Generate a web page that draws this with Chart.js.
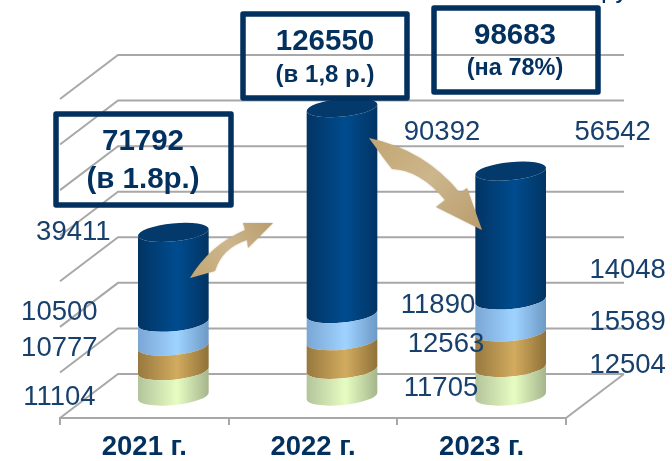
<!DOCTYPE html>
<html lang="ru">
<head>
<meta charset="utf-8">
<title>2021-2023</title>
<script src="https://cdn.jsdelivr.net/npm/chart.js@4"></script>
<style>
  html, body { margin: 0; padding: 0; background: #fff; }
  canvas { display: block; filter: blur(0.4px); }
</style>
</head>
<body>
<canvas id="mainChart" width="672" height="461"></canvas>
<script>
// data, bottom segment first
const categories = ['2021 г.', '2022 г.', '2023 г.'];
const seriesGreen = [11104, 11705, 12504];
const seriesTan = [10777, 12563, 15589];
const seriesBlue = [10500, 11890, 14048];
const seriesNavy = [39411, 90392, 56542];

const totals = ['71792', '126550', '98683'];
const growth = ['(в 1.8р.)', '(в 1,8 р.)', '(на 78%)'];

const navy = '#03315f';
const textColor = '#17406d';
const gridColor = '#a8a8a8';
const font = '"Liberation Sans", Arial, sans-serif';

// 3D look: floor depth in pixels
const depthX = 58;
const depthY = 44;
const ellipseRy = 9;
const tilt = -0.1;

// left edge, middle, right edge of each cylinder
const shades = [
    ['#b3c49b', '#e6fdc2', '#a5b58c'],
    ['#97793f', '#d2ab5f', '#8f7138'],
    ['#7aa6d4', '#9fd3ff', '#6d99c6'],
    ['#023463', '#004c8f', '#023463']
];

// data label nudges from the middle of each segment, [series][year]
const labelNudge = [
    [[-85, -8], [128, -16], [146, -38]],
    [[-85, -32], [133, -33], [146, -49]],
    [[-85, -44], [125, -44], [146, -68]],
    [[-71, -67], [129, -100], [131, -125]]
];

// callout boxes: x, y, w, h, text centre ys and font sizes
const boxes = [
    { x: 56, y: 114, w: 175, h: 91, cx: 143, y1: 142, y2: 180, s1: 29.5, s2: 29.5 },
    { x: 243, y: 14, w: 164, h: 84, cx: 325, y1: 42, y2: 75, s1: 29.5, s2: 24 },
    { x: 434, y: 8, w: 164, h: 84, cx: 515, y1: 36, y2: 69, s1: 29.5, s2: 23.5 }
];

function drawArrow(ctx, pts, x0, y0, x1, y1) {
    const g = ctx.createLinearGradient(x0, y0, x1, y1);
    g.addColorStop(0, '#c2a672');
    g.addColorStop(0.5, '#cdb68c');
    g.addColorStop(1, '#b89c6c');
    ctx.save();
    ctx.fillStyle = g;
    ctx.shadowColor = 'rgba(120,100,60,0.35)';
    ctx.shadowBlur = 2;
    ctx.beginPath();
    ctx.moveTo(pts[0][0], pts[0][1]);
    for (let i = 1; i < pts.length; i++) {
        const p = pts[i];
        if (p.length === 4) ctx.quadraticCurveTo(p[0], p[1], p[2], p[3]);
        else ctx.lineTo(p[0], p[1]);
    }
    ctx.closePath();
    ctx.fill();
    ctx.restore();
}

const floorGrid = {
    id: 'floorGrid',
    beforeDatasetsDraw(chart) {
        const ctx = chart.ctx;
        const area = chart.chartArea;
        const y = chart.scales.y;
        ctx.save();
        ctx.strokeStyle = gridColor;
        ctx.lineWidth = 2;
        y.ticks.forEach(t => {
            const py = y.getPixelForValue(t.value);
            ctx.beginPath();
            ctx.moveTo(area.left, py);
            ctx.lineTo(area.left + depthX, py - depthY);
            ctx.lineTo(area.right + depthX, py - depthY);
            ctx.stroke();
        });
        ctx.beginPath();
        ctx.moveTo(area.right, y.getPixelForValue(0));
        ctx.lineTo(area.right + depthX, y.getPixelForValue(0) - depthY);
        ctx.stroke();
        ctx.restore();
    }
};

// bars are stood in the middle of the floor and drawn as cylinders
const cylinders = {
    id: 'cylinders',
    beforeDatasetDraw(chart, args) {
        const ctx = chart.ctx;
        const shade = shades[args.index];
        args.meta.data.forEach(bar => {
            const cx = bar.x + depthX / 2;
            const rx = bar.width / 2;
            const top = bar.y - depthY / 2;
            const bottom = bar.base - depthY / 2;
            const g = ctx.createLinearGradient(cx - rx, 0, cx + rx, 0);
            g.addColorStop(0, shade[0]);
            g.addColorStop(0.55, shade[1]);
            g.addColorStop(1, shade[2]);
            ctx.save();
            ctx.fillStyle = g;
            ctx.beginPath();
            ctx.ellipse(cx, bottom, rx, ellipseRy, tilt, 0, Math.PI);
            ctx.ellipse(cx, top, rx, ellipseRy, tilt, Math.PI, 0, true);
            ctx.closePath();
            ctx.fill();
            if (args.index === shades.length - 1) {
                ctx.fillStyle = '#033a6b';
                ctx.beginPath();
                ctx.ellipse(cx, top, rx, ellipseRy, tilt, 0, Math.PI * 2);
                ctx.fill();
            }
            ctx.restore();
        });
        return false;
    }
};

const annotations = {
    id: 'annotations',
    afterDraw(chart) {
        const ctx = chart.ctx;

        drawArrow(ctx, [[190, 278], [210, 245, 245, 230], [243, 223], [273, 223], [248, 248], [247, 240],
            [222, 248, 215, 271]], 190, 278, 273, 223);
        drawArrow(ctx, [[369, 138], [425, 150, 460, 193], [467, 188], [482, 230], [436, 207], [445, 200],
            [420, 170, 392, 169], [385, 160]], 369, 138, 482, 230);

        ctx.save();

        // cut off by the top edge of the picture, only the tails show
        ctx.textAlign = 'left';
        ctx.textBaseline = 'alphabetic';
        ctx.fillStyle = navy;
        ctx.font = '26px ' + font;
        ctx.fillText('ру', 601, -2);

        // values next to the segments
        ctx.textAlign = 'center';
        ctx.textBaseline = 'middle';
        ctx.fillStyle = textColor;
        ctx.font = '27.5px ' + font;
        chart.data.datasets.forEach((ds, s) => {
            const meta = chart.getDatasetMeta(s);
            meta.data.forEach((bar, i) => {
                const n = labelNudge[s][i];
                ctx.fillText(ds.data[i], bar.x + n[0], (bar.y + bar.base) / 2 + n[1]);
            });
        });

        // callouts
        boxes.forEach((b, i) => {
            ctx.strokeStyle = navy;
            ctx.lineWidth = 5.5;
            ctx.lineJoin = 'round';
            ctx.strokeRect(b.x, b.y, b.w, b.h);
            ctx.fillStyle = navy;
            ctx.font = 'bold ' + b.s1 + 'px ' + font;
            ctx.fillText(totals[i], b.cx, b.y1);
            ctx.font = 'bold ' + b.s2 + 'px ' + font;
            ctx.fillText(growth[i], b.cx, b.y2);
        });
        ctx.restore();
    }
};

function makeSet(label, values) {
    return { label: label, data: values, backgroundColor: 'transparent', clip: false };
}

new Chart(document.getElementById('mainChart').getContext('2d'), {
    type: 'bar',
    data: {
        labels: categories,
        datasets: [
            makeSet('seriesGreen', seriesGreen),
            makeSet('seriesTan', seriesTan),
            makeSet('seriesBlue', seriesBlue),
            makeSet('seriesNavy', seriesNavy)
        ]
    },
    options: {
        responsive: false,
        animation: false,
        layout: { padding: { left: 60, right: 106, top: 99, bottom: 0 } },
        datasets: { bar: { categoryPercentage: 1, barPercentage: 0.421 } },
        plugins: { legend: { display: false }, tooltip: { enabled: false } },
        scales: {
            x: {
                stacked: true,
                afterFit(scale) { scale.height = 43; },
                grid: { drawOnChartArea: false, color: gridColor, lineWidth: 2, tickLength: 7 },
                border: { color: gridColor, width: 2 },
                ticks: {
                    color: navy,
                    padding: 9,
                    maxRotation: 0,
                    font: { family: font, size: 27.5, weight: 'bold', lineHeight: 1 }
                }
            },
            y: {
                display: false,
                stacked: true,
                min: 0,
                max: 140000,
                ticks: { stepSize: 20000 }
            }
        }
    },
    plugins: [floorGrid, cylinders, annotations]
});
</script>
</body>
</html>
